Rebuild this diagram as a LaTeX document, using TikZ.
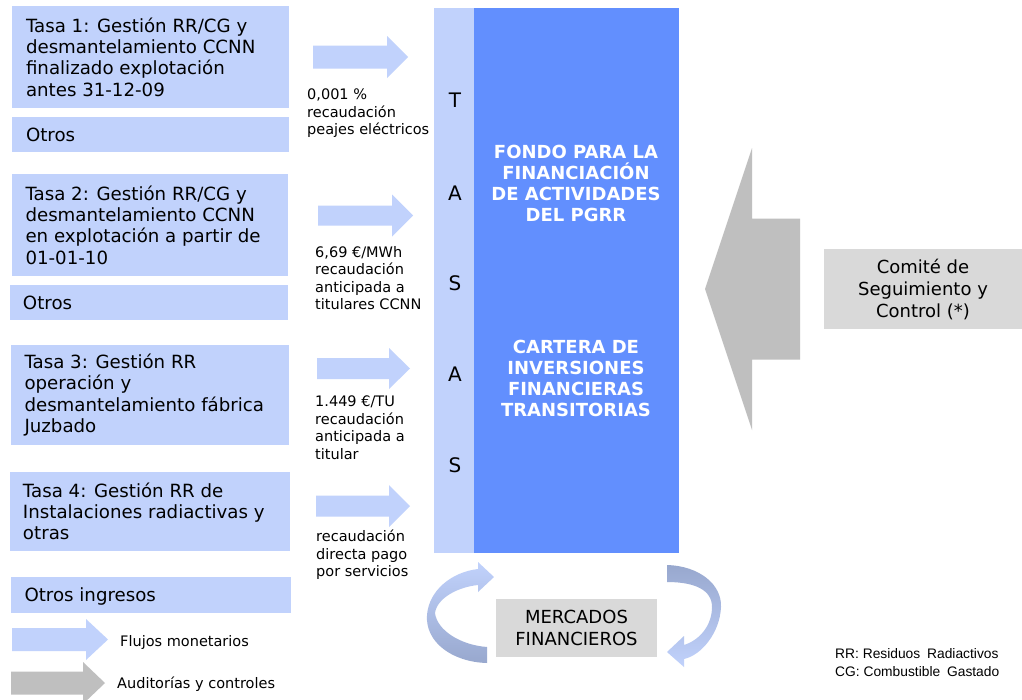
\documentclass[tikz,border=0pt]{standalone}
\usepackage{fontspec}
\setmainfont{DejaVu Sans}
\newfontfamily\arialf{Liberation Sans}
\definecolor{lblue}{RGB}{193,210,252}
\definecolor{dblue}{RGB}{98,143,254}
\definecolor{cgray}{RGB}{191,191,191}
\definecolor{bgray}{RGB}{217,217,217}
\definecolor{sblue}{RGB}{152,168,206}
\newcommand{\barrow}[7]{%
  \fill[#1] ({#2},{#5-#6}) -- ({#3},{#5-#6}) -- ({#3},{#5-#7}) -- ({#4},{#5})
    -- ({#3},{#5+#7}) -- ({#3},{#5+#6}) -- ({#2},{#5+#6}) -- cycle;}
\tikzset{
  lbox/.style={fill=lblue, draw=none, inner sep=0pt},
  btext/.style={align=left, inner sep=0pt, anchor=west, font=\fontsize{18.2}{21.3}\selectfont},
  stext/.style={align=left, inner sep=0pt, anchor=north west, font=\fontsize{14.5}{17.5}\selectfont},
  gbox/.style={fill=bgray, draw=none, inner sep=0pt, align=center, font=\fontsize{18}{22}\selectfont},
  letter/.style={inner sep=0pt, font=\fontsize{20}{24}\selectfont},
  wtext/.style={align=center, inner sep=0pt, text=white, font=\bfseries\fontsize{18}{21}\selectfont},
  barrowblue/.style={fill=lblue},
  barrowgray/.style={fill=cgray},
}
\begin{document}
\begin{tikzpicture}[x=1pt,y=-1pt]
\useasboundingbox (0,0) rectangle (1022,699);
\clip (0,0) rectangle (1022,699);
\fill[white] (0,0) rectangle (1022,699);

% left boxes
\node[lbox, minimum width=277, minimum height=102] (tasa1) at (150.5,57) {};
\node[btext] (tasa1t) at ([xshift=14pt]tasa1.west) {Tasa 1: Gestión RR/CG y\\desmantelamiento CCNN\\finalizado explotación\\antes 31-12-09};
\node[lbox, minimum width=277, minimum height=35] (otros1) at (150.5,134.5) {};
\node[btext] (otros1t) at ([xshift=14pt]otros1.west) {Otros};
\node[lbox, minimum width=276, minimum height=102] (tasa2) at (150,225) {};
\node[btext] (tasa2t) at ([xshift=13.5pt]tasa2.west) {Tasa 2: Gestión RR/CG y\\desmantelamiento CCNN\\en explotación a partir de\\01-01-10};
\node[lbox, minimum width=278, minimum height=35] (otros2) at (149,302.5) {};
\node[btext] (otros2t) at ([xshift=13pt]otros2.west) {Otros};
\node[lbox, minimum width=278, minimum height=100] (tasa3) at (150,395) {};
\node[btext] (tasa3t) at ([xshift=13.5pt]tasa3.west) {Tasa 3: Gestión RR\\operación y\\desmantelamiento fábrica\\Juzbado};
\node[lbox, minimum width=280, minimum height=79] (tasa4) at (150,511.5) {};
\node[btext] (tasa4t) at ([xshift=13pt]tasa4.west) {Tasa 4: Gestión RR de\\Instalaciones radiactivas y\\otras};
\node[lbox, minimum width=280, minimum height=36] (otrosing) at (151,595) {};
\node[btext] (otrosingt) at ([xshift=13.5pt,yshift=-1.5pt]otrosing.west) {Otros ingresos};

% flow arrows
\barrow{barrowblue}{313}{387}{408}{57}{11.5}{21}
\barrow{barrowblue}{318}{392}{413}{215.5}{10}{21}
\barrow{barrowblue}{317}{389}{410}{368.5}{10.5}{20.5}
\barrow{barrowblue}{316}{389}{410}{506}{10.5}{21}

% labels
\node[stext] (l1) at (307,89) {0,001 \%\\recaudación\\peajes eléctricos};
\node[stext] (l2) at (315,246) {6,69 €/MWh\\recaudación\\anticipada a\\titulares CCNN};
\node[stext] (l3) at (315,396) {1.449 €/TU\\recaudación\\anticipada a\\titular};
\node[stext] (l4) at (316,530) {recaudación\\directa pago\\por servicios};

% column
\node[fill=lblue, inner sep=0pt, minimum width=40, minimum height=545] (tasas) at (454,280.5) {};
\node[fill=dblue, inner sep=0pt, minimum width=205, minimum height=545] (fondo) at (576.5,280.5) {};
\node[letter] (lt1) at (455,100) {T};
\node[letter] (lt2) at (455,193) {A};
\node[letter] (lt3) at (455,283) {S};
\node[letter] (lt4) at (455,374) {A};
\node[letter] (lt5) at (455,465) {S};
\node[wtext] (fondot) at (576,183) {FONDO PARA LA\\FINANCIACIÓN\\DE ACTIVIDADES\\DEL PGRR};
\node[wtext] (cartera) at (576,378) {CARTERA DE\\INVERSIONES\\FINANCIERAS\\TRANSITORIAS};

% big gray arrow
\barrow{barrowgray}{800}{752}{705}{289}{70.5}{141}
\node[gbox, minimum width=198, minimum height=80] (comite) at (923,289) {Comité de\\Seguimiento y\\Control (*)};

% mercados
\node[gbox, minimum width=161, minimum height=58] (mercados) at (576.5,628) {MERCADOS\\FINANCIEROS};
\shade[top color=lblue, bottom color=sblue]
  (487,647) -- (487,663)
  .. controls (452,662) and (425,642) .. (427,615)
  .. controls (429,590) and (452,572) .. (478,569)
  -- (478,562) -- (494,577) -- (478,592) -- (478,585)
  .. controls (458,587) and (437,598) .. (435,613)
  .. controls (437,630) and (460,645) .. (487,647) -- cycle;
\shade[top color=sblue, bottom color=lblue]
  (667,565) .. controls (700,566) and (722,585) .. (721,607)
  .. controls (720,632) and (702,655) .. (684,659)
  -- (684,667) -- (667,652) -- (684,636) -- (684,645)
  .. controls (700,640) and (712,625) .. (712,607)
  .. controls (712,590) and (695,582) .. (667,582) -- cycle;

% legend
\barrow{barrowblue}{12}{86}{108}{639.5}{11.5}{20.5}
\barrow{barrowgray}{11}{83}{105}{683}{11.5}{21}
\node[inner sep=0pt, anchor=west, font=\fontsize{14.5}{17}\selectfont] (leg1) at (120,642) {Flujos monetarios};
\node[inner sep=0pt, anchor=west, font=\fontsize{14.5}{17}\selectfont] (leg2) at (117,684) {Auditorías y controles};

% footnote
\node[inner sep=0pt, anchor=west, align=left, font=\arialf\fontsize{13.8}{18}\selectfont] (foot) at (835,663) {RR: Residuos\hspace{3pt} Radiactivos\\CG: Combustible\hspace{3pt} Gastado};
\end{tikzpicture}
\end{document}
